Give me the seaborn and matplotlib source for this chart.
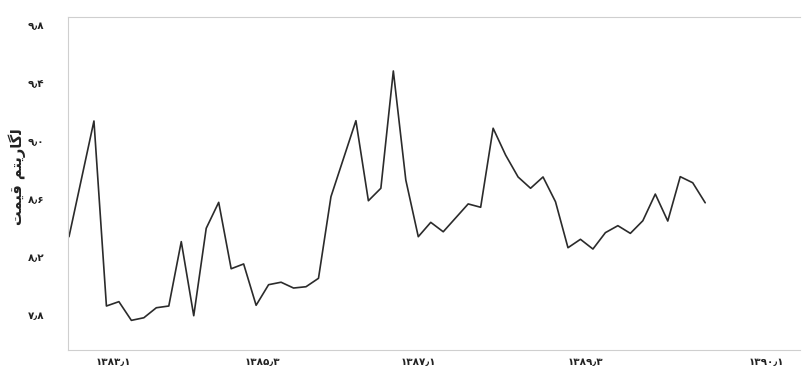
import matplotlib
matplotlib.use("Agg")
import matplotlib.pyplot as plt
import seaborn as sns
import pandas as pd

values = [8.340, 8.739, 9.138, 7.862, 7.892, 7.763, 7.781, 7.850, 7.862, 8.306,
          7.795, 8.398, 8.577, 8.119, 8.152, 7.867, 8.009, 8.026, 7.986, 7.995,
          8.053, 8.616, 8.878, 9.140, 8.588, 8.674, 9.483, 8.731, 8.340, 8.439,
          8.374, 8.470, 8.566, 8.543, 9.088, 8.903, 8.752, 8.674, 8.752, 8.581,
          8.264, 8.322, 8.255, 8.368, 8.416, 8.363, 8.450, 8.634, 8.448, 8.754,
          8.712, 8.574]
period_index = list(range(len(values)))

x_tick_labels = ["۱۳۸۳٫۱", "۱۳۸۵٫۳", "۱۳۸۷٫۱", "۱۳۸۹٫۳", "۱۳۹۰٫۱"]
x_tick_pos = [3.53, 15.48, 27.99, 41.38, 55.89]
y_tick_values = [7.8, 8.2, 8.6, 9.0, 9.4, 9.8]
y_tick_labels = ["۷٫۸", "۸٫۲", "۸٫۶", "۹٫۰", "۹٫۴", "۹٫۸"]
# "لگاریتم قیمت" in shaped presentation forms, visual order
y_label = "\uFE96\uFEE4\uFBFF\uFED7 \uFEE2\uFE98\uFBFE\uFEAD\uFE8E\uFB94\uFEDF"

df = pd.DataFrame({"t": period_index, "v": values})

sns.set_theme(style="white")
plt.rcParams["font.family"] = ["DejaVu Sans"]

fig = plt.figure(figsize=(8.11, 3.80), dpi=100)
ax = fig.add_axes([68/811, 1-350/380, (800-68)/811, (350-17)/380])

sns.lineplot(data=df, x="t", y="v", ax=ax, color="#2b2b2b", linewidth=1.2)

ax.set_xlim(-0.08, 58.6)
ax.set_ylim(9.8 - 325/145, 9.8 + 8/145)

ax.set_xticks(x_tick_pos)
ax.set_xticklabels(x_tick_labels, fontsize=7.5, fontweight="bold", color="#222222")
ax.set_yticks(y_tick_values)
ax.set_yticklabels(y_tick_labels, fontsize=7.5, fontweight="bold", color="#222222")
ax.tick_params(axis="y", length=0, pad=17)
ax.tick_params(axis="x", length=0, pad=5)

ax.set_xlabel("")
ax.set_ylabel(y_label, fontsize=10.5, fontweight="bold", color="#222222")
ax.yaxis.set_label_coords(-0.058, 0.52)

for side in ["left", "top", "bottom"]:
    ax.spines[side].set_color("#cfcfcf")
    ax.spines[side].set_linewidth(0.8)
ax.spines["right"].set_visible(False)

fig.savefig("out.png", dpi=100)
